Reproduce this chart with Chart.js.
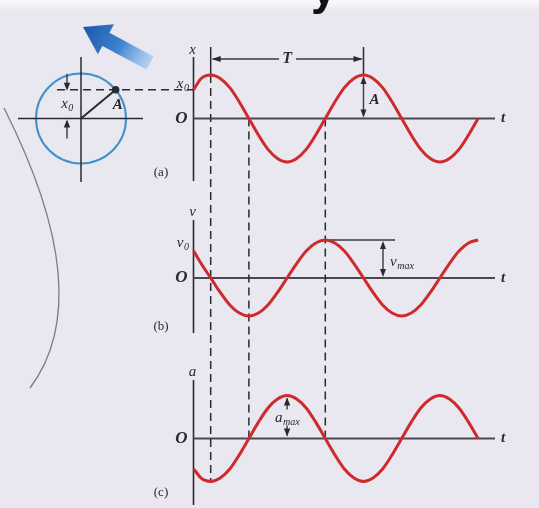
<!DOCTYPE html>
<html lang="en">
<head>
<meta charset="UTF-8">
<title>Simple harmonic motion: x, v and a against t</title>
<script src="https://cdn.jsdelivr.net/npm/chart.js"></script>
<style>
  body { margin: 0; background: #e9e7ef; }
  canvas { display: block; }
</style>
</head>
<body>
<canvas id="shmChart" width="539" height="508"></canvas>
<script>
// sample times, one period = 8 units; x peaks shortly after t = 0
const tPts = [0, 0.4, 0.9, 1.4, 1.9, 2.4, 2.9, 3.4, 3.9, 4.4, 4.9, 5.4, 5.9, 6.4, 6.9, 7.4,
              7.9, 8.4, 8.9, 9.4, 9.9, 10.4, 10.9, 11.4, 11.9, 12.4, 12.9, 13.4, 13.9, 14.4, 14.9];
// displacement x (in units of A), velocity v (units of vmax), acceleration a (units of amax)
const dispVals = [0.66, 0.92, 1, 0.92, 0.71, 0.38, 0, -0.38, -0.71, -0.92, -1, -0.92, -0.71, -0.38, 0, 0.38,
                  0.71, 0.92, 1, 0.92, 0.71, 0.38, 0, -0.38, -0.71, -0.92, -1, -0.92, -0.71, -0.38, 0];
const velVals  = [0.72, 0.38, 0, -0.38, -0.71, -0.92, -1, -0.92, -0.71, -0.38, 0, 0.38, 0.71, 0.92, 1, 0.92,
                  0.71, 0.38, 0, -0.38, -0.71, -0.92, -1, -0.92, -0.71, -0.38, 0, 0.38, 0.71, 0.92, 1];
const accVals  = [-0.7, -0.92, -1, -0.92, -0.71, -0.38, 0, 0.38, 0.71, 0.92, 1, 0.92, 0.71, 0.38, 0, -0.38,
                  -0.71, -0.92, -1, -0.92, -0.71, -0.38, 0, 0.38, 0.71, 0.92, 1, 0.92, 0.71, 0.38, 0];
const panelTags = ['(a)', '(b)', '(c)'];
const axisNames = ['x', 'v', 'a'];

// marker times: first peak of x, its zero crossings, second peak, first peak of a
const T_PEAK = 0.9, T_DOWN = 2.9, T_ACC = 4.9, T_UP = 6.9, T_PEAK2 = 8.9;

const W = 539, H = 508;
const T0 = 193.5;   // pixel column of t = 0
const UNIT = 19.1;  // pixels per time unit
const T_END = 495;  // right end of the t axes

// each panel gets its own y scale; zero line and amplitude in pixels
const panels = [
  { id: 'yx', zero: 118.5, amp: 43.5, top: 57,  bottom: 181, nameY: 50,  tagY: 173 },
  { id: 'yv', zero: 278,   amp: 38,   top: 220, bottom: 333, nameY: 212, tagY: 327 },
  { id: 'ya', zero: 438.5, amp: 43,   top: 380, bottom: 505, nameY: 372, tagY: 493 }
];

const RED = '#cf2a2c';
const INK = '#2b2a30';
const AXIS = '#4a4950';
const SERIF = '"Liberation Serif", "DejaVu Serif", serif';

const scales = {
  x: { type: 'linear', display: false, min: -T0 / UNIT, max: (W - T0) / UNIT }
};
panels.forEach(p => {
  scales[p.id] = { type: 'linear', display: false, min: -(H - p.zero) / p.amp, max: p.zero / p.amp };
});

function series(vals, axisId) {
  return {
    data: tPts.map((t, i) => ({ x: t, y: vals[i] })),
    yAxisID: axisId,
    borderColor: RED,
    borderWidth: 3,
    pointRadius: 0,
    fill: false,
    cubicInterpolationMode: 'monotone'
  };
}

function arrowHead(ctx, x, y, dx, dy, len, half) {
  const l = Math.hypot(dx, dy);
  const ux = dx / l, uy = dy / l;
  ctx.beginPath();
  ctx.moveTo(x, y);
  ctx.lineTo(x - ux * len - uy * half, y - uy * len + ux * half);
  ctx.lineTo(x - ux * len + uy * half, y - uy * len - ux * half);
  ctx.closePath();
  ctx.fill();
}

function line(ctx, x1, y1, x2, y2) {
  ctx.beginPath();
  ctx.moveTo(x1, y1);
  ctx.lineTo(x2, y2);
  ctx.stroke();
}

// variable name with a subscript, e.g. x0, vmax
function subLabel(ctx, base, sub, x, y, size, align) {
  const big = 'italic ' + size + 'px ' + SERIF;
  const small = 'italic ' + Math.round(size * 0.68) + 'px ' + SERIF;
  ctx.font = big;
  const bw = ctx.measureText(base).width;
  ctx.font = small;
  const sw = ctx.measureText(sub).width;
  let left = x;
  if (align === 'center') left = x - (bw + sw) / 2;
  if (align === 'right') left = x - (bw + sw);
  ctx.textAlign = 'left';
  ctx.textBaseline = 'alphabetic';
  ctx.font = big;
  ctx.fillText(base, left, y);
  ctx.font = small;
  ctx.fillText(sub, left + bw + 0.5, y + size * 0.22);
}

const figurePlugin = {
  id: 'figure',
  beforeDraw(chart) {
    const ctx = chart.ctx;
    ctx.save();
    ctx.fillStyle = '#e9e7ef';
    ctx.fillRect(0, 0, W, H);
    const band = ctx.createLinearGradient(0, 0, 0, 18);
    band.addColorStop(0, '#fbfbfd');
    band.addColorStop(1, 'rgba(233,231,239,0)');
    ctx.fillStyle = band;
    ctx.fillRect(0, 0, W, 18);
    // tail of the heading glyph above the figure
    ctx.fillStyle = '#111';
    ctx.font = 'bold 46px "Liberation Sans", sans-serif';
    ctx.textAlign = 'left';
    ctx.textBaseline = 'alphabetic';
    ctx.fillText('y', 311, 4);
    ctx.restore();
  },
  beforeDatasetsDraw(chart) {
    const ctx = chart.ctx;
    const xs = v => chart.scales.x.getPixelForValue(v);
    const ys = (id, v) => chart.scales[id].getPixelForValue(v);
    ctx.save();

    // page edge curve on the left
    ctx.strokeStyle = 'rgba(105,104,115,0.85)';
    ctx.lineWidth = 1.3;
    ctx.beginPath();
    ctx.moveTo(4, 108);
    ctx.quadraticCurveTo(99, 296, 30, 388);
    ctx.stroke();

    // blue pointer arrow
    const tail = { x: 150, y: 63 }, tip = { x: 83, y: 27 };
    const dx = tip.x - tail.x, dy = tip.y - tail.y, L = Math.hypot(dx, dy);
    const ux = dx / L, uy = dy / L, nx = -uy, ny = ux;
    const neck = { x: tip.x - ux * 26, y: tip.y - uy * 26 };
    const grad = ctx.createLinearGradient(tail.x, tail.y, tip.x, tip.y);
    grad.addColorStop(0, 'rgba(130,185,235,0.5)');
    grad.addColorStop(0.45, '#3e84d0');
    grad.addColorStop(1, '#1b56aa');
    ctx.fillStyle = grad;
    ctx.beginPath();
    ctx.moveTo(tail.x + nx * 7.5, tail.y + ny * 7.5);
    ctx.lineTo(neck.x + nx * 7.5, neck.y + ny * 7.5);
    ctx.lineTo(neck.x + nx * 17, neck.y + ny * 17);
    ctx.lineTo(tip.x, tip.y);
    ctx.lineTo(neck.x - nx * 17, neck.y - ny * 17);
    ctx.lineTo(neck.x - nx * 7.5, neck.y - ny * 7.5);
    ctx.lineTo(tail.x - nx * 7.5, tail.y - ny * 7.5);
    ctx.closePath();
    ctx.fill();

    // reference circle
    const cx = 81, cy = ys('yx', 0), r = 45;
    ctx.strokeStyle = '#3f93c8';
    ctx.lineWidth = 2;
    ctx.beginPath();
    ctx.arc(cx, cy, r, 0, Math.PI * 2);
    ctx.stroke();
    ctx.strokeStyle = INK;
    ctx.lineWidth = 1.5;
    line(ctx, cx, 57, cx, 182);
    line(ctx, 18, cy, 143, cy);

    // t and value axes of each panel
    panels.forEach(p => {
      ctx.strokeStyle = INK;
      ctx.lineWidth = 1.6;
      line(ctx, xs(0), p.top, xs(0), p.bottom);
      ctx.strokeStyle = AXIS;
      ctx.lineWidth = 1.8;
      line(ctx, xs(0), ys(p.id, 0), T_END, ys(p.id, 0));
    });

    // dashed time markers running through all three panels
    ctx.strokeStyle = INK;
    ctx.lineWidth = 1.5;
    line(ctx, xs(T_PEAK), 47, xs(T_PEAK), ys('yx', 1));
    line(ctx, xs(T_PEAK2), 47, xs(T_PEAK2), ys('yx', 1));
    ctx.setLineDash([8, 5]);
    line(ctx, xs(T_PEAK), ys('yx', 1), xs(T_PEAK), ys('ya', -1));
    line(ctx, xs(T_DOWN), ys('yx', 0), xs(T_DOWN), ys('ya', 0));
    line(ctx, xs(T_UP), ys('yx', 0), xs(T_UP), ys('ya', 0));
    // projection of A onto the x axis
    const ay = ys('yx', dispVals[0]);
    line(ctx, 57, ay, xs(0), ay);
    ctx.setLineDash([]);

    // radius to A
    const ax = cx + Math.sqrt(r * r - (cy - ay) * (cy - ay));
    ctx.lineWidth = 2;
    line(ctx, cx, cy, ax, ay);

    // period bracket
    ctx.lineWidth = 1.4;
    ctx.strokeStyle = '#3a393f';
    const tx = (xs(T_PEAK) + xs(T_PEAK2)) / 2;
    line(ctx, xs(T_PEAK) + 2, 59, tx - 8, 59);
    line(ctx, tx + 9, 59, xs(T_PEAK2) - 2, 59);

    // amplitude arrow, vmax and amax markers
    line(ctx, xs(T_PEAK2), ys('yx', 1) + 4, xs(T_PEAK2), ys('yx', 0) - 4);
    line(ctx, xs(T_UP), ys('yv', 1), 395, ys('yv', 1));
    line(ctx, 383, ys('yv', 1) + 4, 383, ys('yv', 0) - 4);
    line(ctx, xs(T_ACC), ys('ya', 1) + 14, xs(T_ACC), ys('ya', 1) + 3);
    line(ctx, xs(T_ACC), ys('ya', 0) - 13, xs(T_ACC), ys('ya', 0) - 3);
    // x0 arrows on the circle
    line(ctx, 67, ay - 16, 67, ay - 2);
    line(ctx, 67, cy + 20, 67, cy + 3);
    ctx.restore();
  },
  afterDatasetsDraw(chart) {
    const ctx = chart.ctx;
    const xs = v => chart.scales.x.getPixelForValue(v);
    const ys = (id, v) => chart.scales[id].getPixelForValue(v);
    ctx.save();
    ctx.fillStyle = '#2a2930';

    // arrow heads
    arrowHead(ctx, xs(T_PEAK) + 1, 59, -1, 0, 9, 3);
    arrowHead(ctx, xs(T_PEAK2) - 1, 59, 1, 0, 9, 3);
    arrowHead(ctx, xs(T_PEAK2), ys('yx', 1) + 1, 0, -1, 8, 3);
    arrowHead(ctx, xs(T_PEAK2), ys('yx', 0) - 1, 0, 1, 8, 3);
    arrowHead(ctx, 383, ys('yv', 1) + 1, 0, -1, 8, 3);
    arrowHead(ctx, 383, ys('yv', 0) - 1, 0, 1, 8, 3);
    arrowHead(ctx, xs(T_ACC), ys('ya', 1) + 2, 0, -1, 8, 3.2);
    arrowHead(ctx, xs(T_ACC), ys('ya', 0) - 2, 0, 1, 8, 3.2);
    const cy = ys('yx', 0), ay = ys('yx', dispVals[0]);
    arrowHead(ctx, 67, ay + 1, 0, 1, 8, 3.2);
    arrowHead(ctx, 67, cy + 1, 0, -1, 8, 3.2);

    // point A on the circle
    const r = 45, ax = 81 + Math.sqrt(r * r - (cy - ay) * (cy - ay));
    ctx.beginPath();
    ctx.arc(ax, ay, 3.8, 0, Math.PI * 2);
    ctx.fill();

    // text
    ctx.textBaseline = 'middle';
    ctx.textAlign = 'center';
    panels.forEach((p, i) => {
      ctx.font = 'italic 15px ' + SERIF;
      ctx.fillText(axisNames[i], xs(0) - 1, p.nameY);
      ctx.font = 'italic bold 17px ' + SERIF;
      ctx.fillText('O', xs(0) - 12, ys(p.id, 0));
      ctx.font = 'italic bold 15px ' + SERIF;
      ctx.fillText('t', T_END + 8, ys(p.id, 0));
      ctx.font = '13px ' + SERIF;
      ctx.fillText(panelTags[i], 161, p.tagY);
    });
    ctx.font = 'italic bold 16px ' + SERIF;
    ctx.fillText('T', (xs(T_PEAK) + xs(T_PEAK2)) / 2, 59);
    ctx.font = 'italic bold 15px ' + SERIF;
    ctx.fillText('A', xs(T_PEAK2) + 11, 100);
    ctx.fillText('A', ax + 2, 105);

    subLabel(ctx, 'x', '0', xs(0) - 5, 88, 15, 'right');
    subLabel(ctx, 'v', '0', xs(0) - 5, 247, 15, 'right');
    subLabel(ctx, 'x', '0', 67, 108, 15, 'center');
    subLabel(ctx, 'v', 'max', 390, 266, 15, 'left');
    subLabel(ctx, 'a', 'max', xs(T_ACC), 422, 15, 'center');
    ctx.restore();
  }
};

new Chart(document.getElementById('shmChart'), {
  type: 'line',
  data: {
    datasets: [
      series(dispVals, 'yx'),
      series(velVals, 'yv'),
      series(accVals, 'ya')
    ]
  },
  options: {
    responsive: false,
    animation: false,
    layout: { padding: 0 },
    scales: scales,
    plugins: {
      legend: { display: false },
      tooltip: { enabled: false },
      title: { display: false }
    }
  },
  plugins: [figurePlugin]
});
</script>
</body>
</html>
